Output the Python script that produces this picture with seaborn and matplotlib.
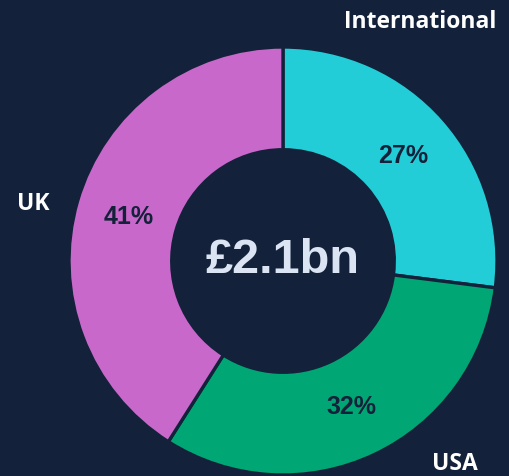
import matplotlib
matplotlib.use("Agg")
import matplotlib.pyplot as plt
import seaborn as sns

regions = ["International", "USA", "UK"]
shares = [27, 32, 41]
total_label = "£2.1bn"
colors = ["#22cdd7", "#00a774", "#c968cb"]

bg = "#13223a"
sns.set_theme(style="white")
plt.rcParams["font.family"] = ["Liberation Sans", "DejaVu Sans"]

W, H = 510, 477
cx, cy, R = 283, 262, 214   # pie centre / radius in pixels

fig = plt.figure(figsize=(W / 100, H / 100), dpi=100, facecolor=bg)
ax = fig.add_axes([0, 0, 1, 1])
ax.set_facecolor(bg)
ax.axis("off")

wedges, _, autotexts = ax.pie(
    shares, colors=colors, startangle=90, counterclock=False,
    radius=1, autopct="%d%%", pctdistance=0.75,
    wedgeprops=dict(width=0.48, edgecolor=bg, linewidth=2.4),
    textprops=dict(color="#14213a", fontsize=18, fontweight="bold"))
ax.set_aspect("auto")
ax.set_xlim(-cx / R, (W - cx) / R)
ax.set_ylim(-(H - cy) / R, cy / R)

ax.text(0, 0.005, total_label, ha="center", va="center", fontsize=35,
        fontweight="bold", color="#dbe4f3")

# outer labels (pixel positions converted to data units)
label_pos = {"International": (420, 22), "USA": (455, 464), "UK": (33, 204)}
for name in regions:
    px, py = label_pos[name]
    ax.text((px - cx) / R, (cy - py) / R, name, ha="center", va="center",
            fontsize=16.5, fontweight="bold", color="white",
            family=["Open Sans", "DejaVu Sans"])

fig.savefig("out.png", dpi=100, facecolor=bg)
